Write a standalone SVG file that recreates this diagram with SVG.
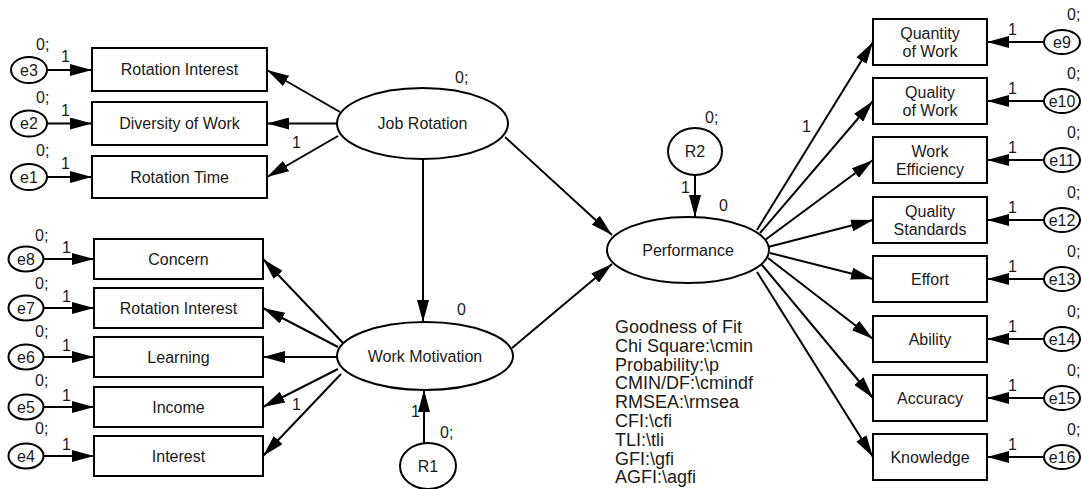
<svg xmlns="http://www.w3.org/2000/svg" width="1082" height="489" viewBox="0 0 1082 489">
<defs>
<marker id="ah" markerUnits="userSpaceOnUse" markerWidth="22" markerHeight="12" refX="22" refY="6" orient="auto">
<path d="M0,0 L22,6 L0,12 z" fill="#000"/>
</marker>
<style>
.bx{fill:#fff;stroke:#000;stroke-width:2}
.el{fill:#fff;stroke:#000;stroke-width:2}
.ln{stroke:#000;stroke-width:2;fill:none;marker-end:url(#ah)}
text{font-family:"Liberation Sans",Arial,sans-serif;font-size:16px;fill:#1a1a1a}
.c{text-anchor:middle}
.gof{font-size:18px}
</style>
</defs>
<rect width="1082" height="489" fill="#fff"/>
<g id="connectors">
<line class="ln" x1="47" y1="70" x2="92" y2="70"/>
<line class="ln" x1="47" y1="123.5" x2="92" y2="123.5"/>
<line class="ln" x1="47" y1="177" x2="92" y2="177"/>
<line class="ln" x1="340" y1="112" x2="267" y2="70"/>
<line class="ln" x1="337" y1="123.5" x2="267" y2="123.5"/>
<line class="ln" x1="338" y1="136" x2="267" y2="177"/>
<line class="ln" x1="43.5" y1="259" x2="94" y2="259"/>
<line class="ln" x1="43.5" y1="308" x2="94" y2="308"/>
<line class="ln" x1="43.5" y1="357" x2="94" y2="357"/>
<line class="ln" x1="43.5" y1="407" x2="94" y2="407"/>
<line class="ln" x1="43.5" y1="456" x2="94" y2="456"/>
<line class="ln" x1="344" y1="344" x2="263" y2="259"/>
<line class="ln" x1="338" y1="347" x2="263" y2="308"/>
<line class="ln" x1="337" y1="357" x2="263" y2="357"/>
<line class="ln" x1="338" y1="369" x2="263" y2="407"/>
<line class="ln" x1="341" y1="374" x2="263" y2="456"/>
<line class="ln" x1="423" y1="159" x2="423" y2="322"/>
<line class="ln" x1="424" y1="443" x2="424" y2="390"/>
<line class="ln" x1="505" y1="137" x2="612" y2="235"/>
<line class="ln" x1="512" y1="348" x2="612" y2="264"/>
<line class="ln" x1="695" y1="175" x2="695" y2="217"/>
<line class="ln" x1="757" y1="230" x2="873" y2="42"/>
<line class="ln" x1="760" y1="233" x2="873" y2="101"/>
<line class="ln" x1="765" y1="240" x2="873" y2="160"/>
<line class="ln" x1="768" y1="247" x2="873" y2="220"/>
<line class="ln" x1="770" y1="253" x2="873" y2="279"/>
<line class="ln" x1="768" y1="258" x2="873" y2="339"/>
<line class="ln" x1="762" y1="265" x2="873" y2="398"/>
<line class="ln" x1="757" y1="272" x2="873" y2="457"/>
<line class="ln" x1="1044" y1="42" x2="987" y2="42"/>
<line class="ln" x1="1044" y1="101" x2="987" y2="101"/>
<line class="ln" x1="1044" y1="160" x2="987" y2="160"/>
<line class="ln" x1="1044" y1="220" x2="987" y2="220"/>
<line class="ln" x1="1044" y1="279" x2="987" y2="279"/>
<line class="ln" x1="1044" y1="339" x2="987" y2="339"/>
<line class="ln" x1="1044" y1="398" x2="987" y2="398"/>
<line class="ln" x1="1044" y1="457" x2="987" y2="457"/>
</g>
<g id="edge-labels">
<text x="61" y="62">1</text>
<text x="61" y="116">1</text>
<text x="61" y="169">1</text>
<text x="62" y="253">1</text>
<text x="62" y="302">1</text>
<text x="62" y="351">1</text>
<text x="62" y="401">1</text>
<text x="62" y="450">1</text>
<text x="292" y="148">1</text>
<text x="292" y="410">1</text>
<text x="411" y="417">1</text>
<text x="681" y="193">1</text>
<text x="802" y="132">1</text>
<text x="1008" y="35">1</text>
<text x="1008" y="94">1</text>
<text x="1008" y="153">1</text>
<text x="1008" y="213">1</text>
<text x="1008" y="272">1</text>
<text x="1008" y="332">1</text>
<text x="1008" y="391">1</text>
<text x="1008" y="450">1</text>
</g>
<g id="e3"><ellipse class="el" cx="29" cy="70" rx="18" ry="13"/><text class="c" x="29" y="75.5">e3</text><text x="36" y="50">0;</text></g>
<g id="e2"><ellipse class="el" cx="29" cy="123.5" rx="18" ry="13"/><text class="c" x="29" y="129">e2</text><text x="36" y="103">0;</text></g>
<g id="e1"><ellipse class="el" cx="29" cy="177" rx="18" ry="13"/><text class="c" x="29" y="182.5">e1</text><text x="36" y="156">0;</text></g>
<g id="rotation-interest-1"><rect class="bx" x="92" y="48" width="175" height="43"/><text class="c" x="179.5" y="75">Rotation Interest</text></g>
<g id="diversity"><rect class="bx" x="92" y="102" width="175" height="43"/><text class="c" x="179.5" y="129">Diversity of Work</text></g>
<g id="rotation-time"><rect class="bx" x="92" y="156" width="175" height="42"/><text class="c" x="179.5" y="182.5">Rotation Time</text></g>
<g id="job-rotation"><ellipse class="el" cx="422.5" cy="123.5" rx="85.5" ry="35.5"/><text class="c" x="422.5" y="129">Job Rotation</text><text x="455" y="83">0;</text></g>
<g id="e8"><ellipse class="el" cx="26" cy="259" rx="17.5" ry="12.5"/><text class="c" x="26" y="264.5">e8</text><text x="35" y="241">0;</text></g>
<g id="e7"><ellipse class="el" cx="26" cy="308" rx="17.5" ry="12.5"/><text class="c" x="26" y="313.5">e7</text><text x="35" y="289">0;</text></g>
<g id="e6"><ellipse class="el" cx="26" cy="357" rx="17.5" ry="12.5"/><text class="c" x="26" y="362.5">e6</text><text x="35" y="337">0;</text></g>
<g id="e5"><ellipse class="el" cx="26" cy="407" rx="17.5" ry="12.5"/><text class="c" x="26" y="412.5">e5</text><text x="35" y="386">0;</text></g>
<g id="e4"><ellipse class="el" cx="26" cy="456" rx="17.5" ry="12.5"/><text class="c" x="26" y="461.5">e4</text><text x="35" y="434">0;</text></g>
<g id="concern"><rect class="bx" x="94" y="239" width="169" height="40"/><text class="c" x="178.5" y="264.5">Concern</text></g>
<g id="rotation-interest-2"><rect class="bx" x="94" y="288" width="169" height="40"/><text class="c" x="178.5" y="313.5">Rotation Interest</text></g>
<g id="learning"><rect class="bx" x="94" y="337" width="169" height="40"/><text class="c" x="178.5" y="362.5">Learning</text></g>
<g id="income"><rect class="bx" x="94" y="387" width="169" height="40"/><text class="c" x="178.5" y="412.5">Income</text></g>
<g id="interest"><rect class="bx" x="94" y="436" width="169" height="40"/><text class="c" x="178.5" y="461.5">Interest</text></g>
<g id="work-motivation"><ellipse class="el" cx="425" cy="356" rx="88" ry="34"/><text class="c" x="425" y="361.5">Work Motivation</text><text x="457" y="315">0</text></g>
<g id="r1"><ellipse class="el" cx="428" cy="466" rx="28" ry="23"/><text class="c" x="428" y="472">R1</text><text x="440" y="438">0;</text></g>
<g id="r2"><ellipse class="el" cx="695" cy="151.5" rx="27" ry="23.5"/><text class="c" x="695" y="157">R2</text><text x="705" y="123">0;</text></g>
<g id="performance"><ellipse class="el" cx="688" cy="250" rx="81" ry="33"/><text class="c" x="688" y="255.5">Performance</text><text x="719" y="211">0</text></g>
<g id="quantity"><rect class="bx" x="873" y="19" width="114" height="46"/><text class="c" x="930" y="39">Quantity</text><text class="c" x="930" y="56.5">of Work</text></g>
<g id="quality"><rect class="bx" x="873" y="78" width="114" height="46"/><text class="c" x="930" y="98">Quality</text><text class="c" x="930" y="115.5">of Work</text></g>
<g id="efficiency"><rect class="bx" x="873" y="137" width="114" height="46"/><text class="c" x="930" y="157">Work</text><text class="c" x="930" y="174.5">Efficiency</text></g>
<g id="standards"><rect class="bx" x="873" y="197" width="114" height="46"/><text class="c" x="930" y="217">Quality</text><text class="c" x="930" y="234.5">Standards</text></g>
<g id="effort"><rect class="bx" x="873" y="256" width="114" height="46"/><text class="c" x="930" y="284.5">Effort</text></g>
<g id="ability"><rect class="bx" x="873" y="316" width="114" height="46"/><text class="c" x="930" y="344.5">Ability</text></g>
<g id="accuracy"><rect class="bx" x="873" y="375" width="114" height="46"/><text class="c" x="930" y="403.5">Accuracy</text></g>
<g id="knowledge"><rect class="bx" x="873" y="434" width="114" height="46"/><text class="c" x="930" y="462.5">Knowledge</text></g>
<g id="e9"><ellipse class="el" cx="1062" cy="42" rx="18" ry="12"/><text class="c" x="1062" y="47.5">e9</text><text x="1067" y="20">0;</text></g>
<g id="e10"><ellipse class="el" cx="1062" cy="101" rx="18" ry="12"/><text class="c" x="1062" y="106.5">e10</text><text x="1067" y="79">0;</text></g>
<g id="e11"><ellipse class="el" cx="1062" cy="160" rx="18" ry="12"/><text class="c" x="1062" y="165.5">e11</text><text x="1067" y="138">0;</text></g>
<g id="e12"><ellipse class="el" cx="1062" cy="220" rx="18" ry="12"/><text class="c" x="1062" y="225.5">e12</text><text x="1067" y="198">0;</text></g>
<g id="e13"><ellipse class="el" cx="1062" cy="279" rx="18" ry="12"/><text class="c" x="1062" y="284.5">e13</text><text x="1067" y="257">0;</text></g>
<g id="e14"><ellipse class="el" cx="1062" cy="339" rx="18" ry="12"/><text class="c" x="1062" y="344.5">e14</text><text x="1067" y="317">0;</text></g>
<g id="e15"><ellipse class="el" cx="1062" cy="398" rx="18" ry="12"/><text class="c" x="1062" y="403.5">e15</text><text x="1067" y="376">0;</text></g>
<g id="e16"><ellipse class="el" cx="1062" cy="457" rx="18" ry="12"/><text class="c" x="1062" y="462.5">e16</text><text x="1067" y="435">0;</text></g>
<g id="goodness-of-fit">
<text class="gof" x="615" y="333">Goodness of Fit</text>
<text class="gof" x="615" y="351.8">Chi Square:\cmin</text>
<text class="gof" x="615" y="370.6">Probability:\p</text>
<text class="gof" x="615" y="389.4">CMIN/DF:\cmindf</text>
<text class="gof" x="615" y="408.2">RMSEA:\rmsea</text>
<text class="gof" x="615" y="427">CFI:\cfi</text>
<text class="gof" x="615" y="445.8">TLI:\tli</text>
<text class="gof" x="615" y="464.6">GFI:\gfi</text>
<text class="gof" x="615" y="483.4">AGFI:\agfi</text>
</g>
</svg>
